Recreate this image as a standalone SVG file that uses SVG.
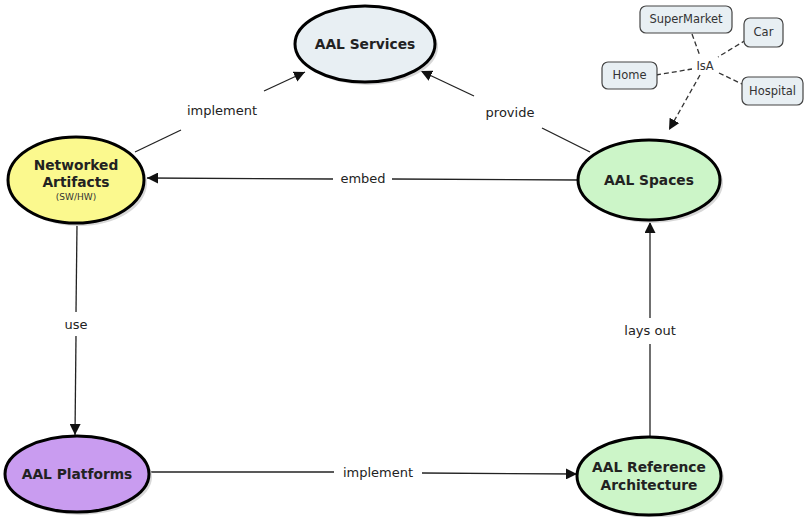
<svg xmlns="http://www.w3.org/2000/svg" width="805" height="517" viewBox="0 0 805 517">
<defs>
<marker id="arr" viewBox="0 0 10 10" refX="10" refY="5" markerWidth="11" markerHeight="11" markerUnits="userSpaceOnUse" orient="auto">
<path d="M0,0 L10,5 L0,10 z" fill="#111"/>
</marker>
<style>
.node{stroke:#000;stroke-width:3}
.shadow{fill:#d8d8d8;stroke:none}
.nt{font-family:"DejaVu Sans",Verdana,sans-serif;font-weight:bold;font-size:13.8px;fill:#222;text-anchor:middle}
.st{font-family:"DejaVu Sans",Verdana,sans-serif;font-size:9px;fill:#333;text-anchor:middle}
.lab{font-family:"DejaVu Sans",Verdana,sans-serif;font-size:13px;fill:#222;text-anchor:middle}
.sm{font-family:"DejaVu Sans",Verdana,sans-serif;font-size:11.5px;fill:#333;text-anchor:middle}
.box{fill:#e8eff3;stroke:#444;stroke-width:1.2}
.edge{fill:none;stroke:#222;stroke-width:1.3}
.dash{fill:none;stroke:#333;stroke-width:1.3;stroke-dasharray:5,3}
</style>
</defs>
<rect width="805" height="517" fill="#fff"/>

<g id="connectors">
<path class="edge" d="M135,152 L181,130"/>
<path class="edge" d="M264,91 L305,72" marker-end="url(#arr)"/>
<text class="lab" x="222" y="115">implement</text>

<path class="edge" d="M590,152 L542,128"/>
<path class="edge" d="M474,96 L421,71" marker-end="url(#arr)"/>
<text class="lab" x="510" y="117">provide</text>

<path class="edge" d="M578,180 L392,179"/>
<path class="edge" d="M333,179 L147,178" marker-end="url(#arr)"/>
<text class="lab" x="363" y="183">embed</text>

<path class="edge" d="M77,225 L76,312"/>
<path class="edge" d="M76,336 L75,435" marker-end="url(#arr)"/>
<text class="lab" x="76" y="329">use</text>

<path class="edge" d="M150,472 L334,472"/>
<path class="edge" d="M422,473 L577,474" marker-end="url(#arr)"/>
<text class="lab" x="378" y="477">implement</text>

<path class="edge" d="M650,436 L650,344"/>
<path class="edge" d="M650,318 L650,222" marker-end="url(#arr)"/>
<text class="lab" x="650" y="335">lays out</text>

<path class="dash" d="M692,34 L700,56"/>
<path class="dash" d="M746,40 L718,57"/>
<path class="dash" d="M656,75 L692,69"/>
<path class="dash" d="M719,73 L742,84"/>
<path class="dash" d="M700,75 L669,130" marker-end="url(#arr)"/>
<text class="sm" x="705" y="70">IsA</text>
</g>

<g id="aal-services">
<ellipse class="shadow" cx="368" cy="47" rx="70" ry="38"/>
<ellipse class="node" cx="365" cy="44" rx="70" ry="38" fill="#e8eff3"/>
<text class="nt" x="365" y="49">AAL Services</text>
</g>

<g id="networked-artifacts">
<ellipse class="shadow" cx="79" cy="183" rx="68" ry="43"/>
<ellipse class="node" cx="76" cy="180" rx="68" ry="43" fill="#fbf98e"/>
<text class="nt" x="76" y="170">Networked</text>
<text class="nt" x="76" y="187">Artifacts</text>
<text class="st" x="76" y="200">(SW/HW)</text>
</g>

<g id="aal-spaces">
<ellipse class="shadow" cx="652" cy="183" rx="71" ry="40"/>
<ellipse class="node" cx="649" cy="180" rx="71" ry="40" fill="#ccf5c8"/>
<text class="nt" x="649" y="185">AAL Spaces</text>
</g>

<g id="aal-platforms">
<ellipse class="shadow" cx="80" cy="477" rx="72" ry="38"/>
<ellipse class="node" cx="77" cy="474" rx="72" ry="38" fill="#c99cf0"/>
<text class="nt" x="77" y="479">AAL Platforms</text>
</g>

<g id="aal-reference-architecture">
<ellipse class="shadow" cx="652" cy="479" rx="72" ry="39"/>
<ellipse class="node" cx="649" cy="476" rx="72" ry="39" fill="#ccf5c8"/>
<text class="nt" x="649" y="472">AAL Reference</text>
<text class="nt" x="649" y="490">Architecture</text>
</g>

<g id="supermarket">
<rect class="box" x="640" y="6" width="92" height="27" rx="6"/>
<text class="sm" x="686" y="23">SuperMarket</text>
</g>
<g id="car">
<rect class="box" x="744" y="18" width="39" height="29" rx="6"/>
<text class="sm" x="763.5" y="36">Car</text>
</g>
<g id="home">
<rect class="box" x="602" y="62" width="55" height="27" rx="6"/>
<text class="sm" x="629.5" y="79">Home</text>
</g>
<g id="hospital">
<rect class="box" x="742" y="77" width="61" height="28" rx="6"/>
<text class="sm" x="772.5" y="95">Hospital</text>
</g>
</svg>
